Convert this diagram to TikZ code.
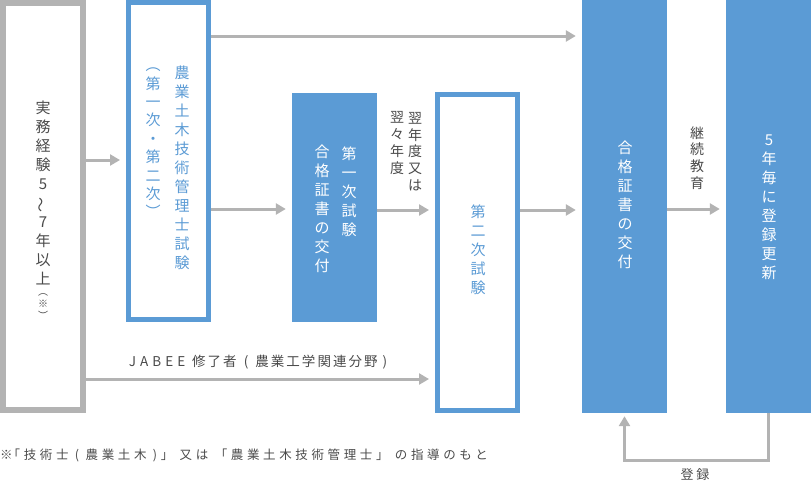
\documentclass[tikz,border=0pt]{standalone}
\usepackage{fontspec}
\usepackage{graphicx}
\setmainfont{Noto Sans CJK JP}
\usetikzlibrary{arrows.meta}
\definecolor{bl}{HTML}{5B9BD5}
\definecolor{gr}{HTML}{B3B3B3}
\definecolor{tx}{HTML}{4A4A4A}
\begin{document}
\begin{tikzpicture}[x=1pt,y=-1pt,
  graybox/.style={draw=gr,line width=6pt,fill=white,inner sep=0pt},
  bluebox/.style={draw=bl,line width=5pt,fill=white,inner sep=0pt},
  fillbox/.style={fill=bl,inner sep=0pt},
  vt/.style={align=center,inner sep=0pt,font=\fontsize{15}{19}\selectfont},
  sl/.style={align=center,inner sep=0pt,text=tx,font=\fontsize{14}{16.7}\selectfont},
  arr/.style={draw=gr,line width=3pt,-{Triangle[length=10pt,width=11pt]},shorten >=6pt},
  hl/.style={text=tx,inner sep=0pt}]
\useasboundingbox (0,0) rectangle (811,482);
% boxes
\node[graybox,minimum width=80,minimum height=407] (exp) at (43,206.5) {};
\node[bluebox,minimum width=80,minimum height=317] (ex1) at (168.5,161) {};
\node[fillbox,minimum width=85,minimum height=229] (c1) at (334.5,207.5) {};
\node[bluebox,minimum width=80,minimum height=316] (ex2) at (477.5,252.5) {};
\node[fillbox,minimum width=85,minimum height=413] (c2) at (624.5,206.5) {};
\node[fillbox,minimum width=85,minimum height=413] (r5) at (768.5,206.5) {};
% texts in boxes
\node[vt,text=tx] (texp) at (43,193) {実\\務\\経\\験\\5\\\smash{\rotatebox[origin=c]{90}{〜}}\\7\\年\\以\\上};
\node[align=center,inner sep=0pt,text=tx,font=\fontsize{10}{12}\selectfont] (tnote) at (43,307) {︵\\※\\︶};
\node[vt,text=bl] (tex1a) at (182,168) {農\\業\\土\\木\\技\\術\\管\\理\\士\\試\\験};
\node[align=center,inner sep=0pt,text=bl,font=\fontsize{15}{18.4}\selectfont] (tex1b) at (153,143) {︵\\第\\一\\次\\・\\第\\二\\次\\︶};
\node[vt,text=white] (tc1a) at (349,191.5) {第\\一\\次\\試\\験};
\node[vt,text=white] (tc1b) at (322,208.5) {合\\格\\証\\書\\の\\交\\付};
\node[sl] (tyear1) at (415,151.5) {翌\\年\\度\\又\\は};
\node[sl] (tyear2) at (397,143) {翌\\々\\年\\度};
\node[vt,text=bl] (tex2) at (478,250) {第\\二\\次\\試\\験};
\node[vt,text=white] (tc2) at (625,205) {合\\格\\証\\書\\の\\交\\付};
\node[sl] (tcont) at (697,158) {継\\続\\教\\育};
\node[vt,text=white] (tr5) at (769,207.5) {5\\年\\毎\\に\\登\\録\\更\\新};
% arrows
\coordinate (y36) at (0,36);
\coordinate (y160) at (0,160);
\coordinate (y209) at (0,209);
\coordinate (y210) at (0,210);
\coordinate (y379) at (0,379);
\draw[arr] (exp.east |- y160) -- (ex1.west |- y160);
\draw[arr] (ex1.east |- y36) -- (c2.west |- y36);
\draw[arr] (ex1.east |- y209) -- (c1.west |- y209);
\draw[arr] (c1.east |- y210) -- (ex2.west |- y210);
\draw[arr] (ex2.east |- y210) -- (c2.west |- y210);
\draw[arr] (c2.east |- y209) -- (r5.west |- y209);
\draw[arr] (exp.east |- y379) -- (ex2.west |- y379);
\draw[arr,shorten >=3pt] (r5.south) -- ++(0,47) -| (c2.south);
% labels
\node[hl,font=\fontsize{13.5}{15}\selectfont\addfontfeature{LetterSpace=15}] (jabee) at (258,362) {{\addfontfeature{LetterSpace=30}JABEE}\hspace{7pt}修了者\hspace{2pt} ( \hspace{2pt}農業工学関連分野 )};
\node[hl,anchor=west,font=\fontsize{12.5}{15}\selectfont\addfontfeature{LetterSpace=29}] (foot) at (0,455) {※\kern-5pt「技術士 ( 農業土木 )」 又は 「農業土木技術管理士」 の指導のもと};
\node[hl,font=\fontsize{13}{15}\selectfont\addfontfeature{LetterSpace=20}] (reg) at (695,475) {登録};
\end{tikzpicture}
\end{document}
